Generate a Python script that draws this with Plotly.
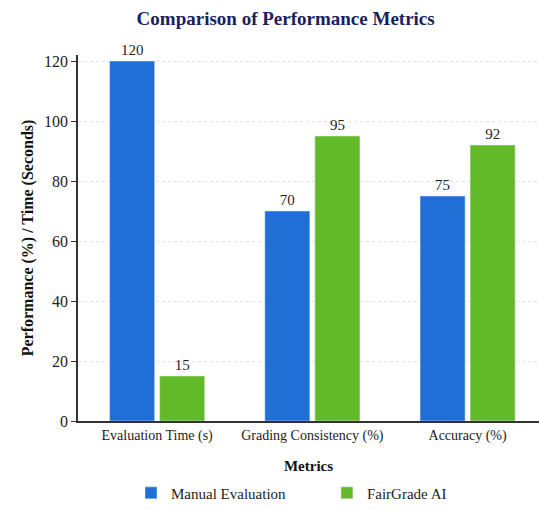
import plotly.graph_objects as go

categories = ["Evaluation Time (s)", "Grading Consistency (%)", "Accuracy (%)"]
manual_values = [120, 70, 75]
fairgrade_values = [15, 95, 92]
y_ticks = [0, 20, 40, 60, 80, 100, 120]

FONT = "Liberation Serif, Times New Roman, serif"
BLUE = "#1f6fd6"
GREEN = "#62ba28"

fig = go.Figure()
fig.add_trace(go.Bar(
    name="Manual Evaluation", x=categories, y=manual_values,
    marker_color=BLUE, text=manual_values, textposition="outside",
    textfont=dict(family=FONT, size=15, color="#222"), cliponaxis=False,
    legend="legend", showlegend=True,
))
fig.add_trace(go.Bar(
    name="FairGrade AI", x=categories, y=fairgrade_values,
    marker_color=GREEN, text=fairgrade_values, textposition="outside",
    textfont=dict(family=FONT, size=15, color="#222"), cliponaxis=False,
    legend="legend2", showlegend=True,
))

legend_style = dict(orientation="h", xanchor="left", y=-0.197, yanchor="middle",
                    font=dict(family=FONT, size=15, color="#222"),
                    itemwidth=30, bgcolor="rgba(0,0,0,0)")

fig.update_layout(
    width=539, height=510,
    showlegend=True,
    margin=dict(l=78, r=0, t=55, b=89),
    paper_bgcolor="white", plot_bgcolor="white",
    barmode="group", bargap=0.355, bargroupgap=0.1,
    font=dict(family=FONT, size=14, color="#222"),
    title=dict(text="<b>Comparison of Performance Metrics</b>",
               x=0.53, xanchor="center", y=0.965, yanchor="middle",
               font=dict(family=FONT, size=19, color="#1c1f5e")),
    xaxis=dict(
        range=[-0.51, 2.46],
        showline=True, linecolor="#333", linewidth=1.5,
        ticks="", tickfont=dict(family=FONT, size=14, color="#222"),
        title=dict(text="<b>Metrics</b>", standoff=18,
                   font=dict(family=FONT, size=15, color="#111")),
    ),
    yaxis=dict(
        range=[0, 122], tickvals=y_ticks,
        showline=True, linecolor="#333", linewidth=1.5,
        ticks="outside", ticklen=5, tickcolor="#333",
        showgrid=True, gridcolor="#e2e2e2", griddash="dot", gridwidth=1,
        zeroline=False,
        tickfont=dict(family=FONT, size=16, color="#222"),
        title=dict(text="<b>Performance (%) / Time (Seconds)</b>", standoff=6,
                   font=dict(family=FONT, size=16, color="#111")),
    ),
    legend=dict(x=0.115, **legend_style),
    legend2=dict(x=0.54, **legend_style),
)

fig.write_html("out.html")
